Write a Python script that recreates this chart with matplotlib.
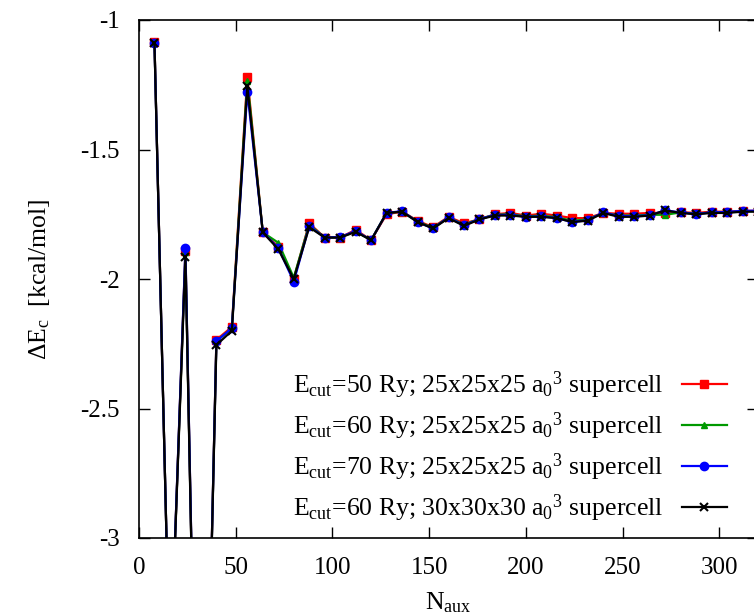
import matplotlib
matplotlib.use("Agg")
import matplotlib.pyplot as plt
from matplotlib.ticker import FuncFormatter

plt.rcParams['font.family'] = ['Liberation Serif', 'DejaVu Serif']
plt.rcParams['mathtext.fontset'] = 'custom'
plt.rcParams['mathtext.rm'] = 'Liberation Serif'
plt.rcParams['mathtext.it'] = 'Liberation Serif'
plt.rcParams['mathtext.default'] = 'regular'
plt.rcParams['axes.unicode_minus'] = False

# Number of auxiliary functions
n_aux = [8, 16, 24, 32, 40, 48, 56, 64, 72, 80,
         88, 96, 104, 112, 120, 128, 136, 144, 152, 160,
         168, 176, 184, 192, 200, 208, 216, 224, 232, 240,
         248, 256, 264, 272, 280, 288, 296, 304, 312, 320]

# Correlation energy difference [kcal/mol]
de_50ry_25 = [-1.085, -3.55, -1.89, -4.85, -2.235, -2.185, -1.22, -1.82, -1.875, -2.00,
              -1.785, -1.84, -1.84, -1.81, -1.85, -1.75, -1.74, -1.775, -1.80, -1.76,
              -1.785, -1.77, -1.75, -1.745, -1.755, -1.748, -1.755, -1.765, -1.765, -1.745,
              -1.748, -1.748, -1.745, -1.745, -1.742, -1.745, -1.74, -1.74, -1.737, -1.737]
de_60ry_25 = [-1.088, -3.55, -1.895, -4.85, -2.24, -2.19, -1.235, -1.82, -1.86, -1.995,
              -1.79, -1.84, -1.84, -1.815, -1.85, -1.745, -1.74, -1.778, -1.803, -1.762,
              -1.79, -1.768, -1.752, -1.75, -1.758, -1.755, -1.762, -1.775, -1.77, -1.745,
              -1.755, -1.755, -1.752, -1.752, -1.743, -1.748, -1.743, -1.742, -1.739, -1.738]
de_70ry_25 = [-1.09, -3.55, -1.882, -4.85, -2.24, -2.19, -1.277, -1.82, -1.88, -2.01,
              -1.795, -1.84, -1.838, -1.815, -1.85, -1.745, -1.738, -1.78, -1.805, -1.762,
              -1.793, -1.768, -1.753, -1.752, -1.76, -1.758, -1.765, -1.78, -1.773, -1.743,
              -1.757, -1.757, -1.754, -1.735, -1.743, -1.749, -1.743, -1.741, -1.737, -1.736]
de_60ry_30 = [-1.09, -3.55, -1.915, -4.85, -2.255, -2.20, -1.255, -1.82, -1.885, -2.00,
              -1.80, -1.84, -1.84, -1.818, -1.85, -1.745, -1.74, -1.78, -1.805, -1.765,
              -1.795, -1.77, -1.755, -1.755, -1.76, -1.76, -1.765, -1.78, -1.775, -1.745,
              -1.76, -1.76, -1.755, -1.735, -1.745, -1.75, -1.745, -1.745, -1.74, -1.74]

labels = [
    r'E$_{cut}$=50 Ry; 25x25x25 a$_0$$^3$ supercell',
    r'E$_{cut}$=60 Ry; 25x25x25 a$_0$$^3$ supercell',
    r'E$_{cut}$=70 Ry; 25x25x25 a$_0$$^3$ supercell',
    r'E$_{cut}$=60 Ry; 30x30x30 a$_0$$^3$ supercell',
]

x_ticks = [0, 50, 100, 150, 200, 250, 300]
y_ticks = [-3, -2.5, -2, -1.5, -1]

fig = plt.figure(figsize=(7.54, 6.16), dpi=100)
ax = fig.add_axes([139 / 754, 78 / 616, 619 / 754, 518 / 616])

styles = [
    dict(color='#ff0000', marker='s', markersize=6),
    dict(color='#009900', marker='^', markersize=5),
    dict(color='#0000ff', marker='o', markersize=6),
    dict(color='#000000', marker='x', markersize=6, markeredgewidth=1.5),
]
for ys, lab, st in zip([de_50ry_25, de_60ry_25, de_70ry_25, de_60ry_30], labels, styles):
    ax.plot(n_aux, ys, linewidth=1.6, label=lab, **st)

ax.set_xlim(0, 320)
ax.set_ylim(-3, -1)
ax.set_xticks(x_ticks)
ax.set_yticks(y_ticks)
ax.yaxis.set_major_formatter(FuncFormatter(lambda v, p: '%g' % v))
ax.tick_params(direction='in', length=8, width=1, top=True, right=True,
               labelsize=18)
ax.tick_params(axis='x', pad=14)
ax.tick_params(axis='y', pad=14)
for s in ax.spines.values():
    s.set_linewidth(1.2)

ax.set_xlabel(r'N$_{aux}$', fontsize=18.5, labelpad=8)
ax.set_ylabel(r'ΔE$_c$  [kcal/mol]', fontsize=18.5, labelpad=20)

leg = ax.legend(loc='lower right', bbox_to_anchor=(737 / 754, 82 / 616),
                bbox_transform=fig.transFigure, frameon=False, markerfirst=False,
                fontsize=18.5, handlelength=1.75, labelspacing=0.37, numpoints=1,
                handletextpad=0.7, borderaxespad=0)

fig.savefig('out.png', dpi=100)
